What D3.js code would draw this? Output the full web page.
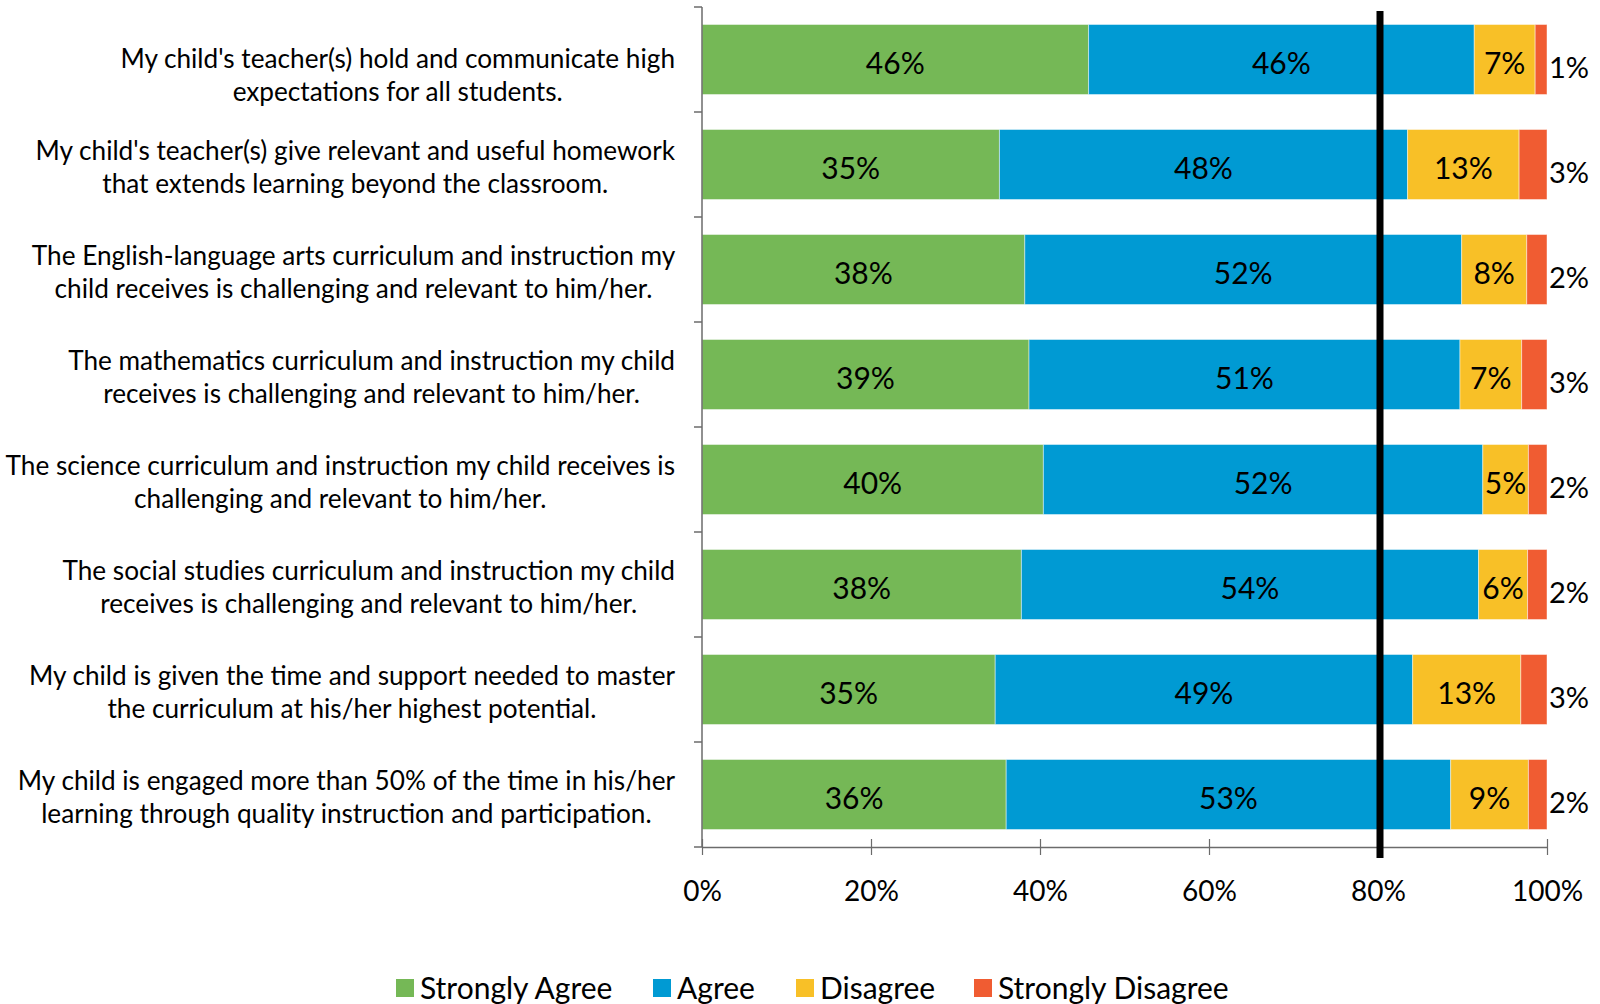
<!DOCTYPE html>
<html>
<head>
<meta charset="utf-8">
<script src="https://cdn.jsdelivr.net/npm/d3@7/dist/d3.min.js"></script>
<style>
  html, body { margin: 0; padding: 0; background: #fff; }
  svg { display: block; }
  text { font-family: Lato, "Open Sans", sans-serif; fill: #000; }
</style>
</head>
<body>
<svg id="chart" width="1600" height="1004"></svg>
<script>
const categories = [
  ["My child's teacher(s) hold and communicate high", "expectations for all students."],
  ["My child's teacher(s) give relevant and useful homework", "that extends learning beyond the classroom."],
  ["The English-language arts curriculum and instruction my", "child receives is challenging and relevant to him/her."],
  ["The mathematics curriculum and instruction my child", "receives is challenging and relevant to him/her."],
  ["The science curriculum and instruction my child receives is", "challenging and relevant to him/her."],
  ["The social studies curriculum and instruction my child", "receives is challenging and relevant to him/her."],
  ["My child is given the time and support needed to master", "the curriculum at his/her highest potential."],
  ["My child is engaged more than 50% of the time in his/her", "learning through quality instruction and participation."]
];
const seriesNames = ["Strongly Agree", "Agree", "Disagree", "Strongly Disagree"];
const stronglyAgree    = [45.7, 35.2, 38.2, 38.7, 40.4, 37.8, 34.7, 36.0];
const agree            = [45.6, 48.3, 51.7, 51.0, 52.0, 54.1, 49.4, 52.6];
const disagree         = [7.2, 13.2, 7.7, 7.3, 5.4, 5.8, 12.8, 9.2];
const stronglyDisagree = [1.4, 3.3, 2.4, 3.0, 2.2, 2.3, 3.1, 2.2];
const tickValues = [0, 0.2, 0.4, 0.6, 0.8, 1.0];
const targetLine = 0.80;

const colors = ["#75B856", "#009AD3", "#F8C027", "#F05C32"];

const rows = categories.map((c, i) => ({
  key: i,
  label: c,
  "Strongly Agree": stronglyAgree[i],
  "Agree": agree[i],
  "Disagree": disagree[i],
  "Strongly Disagree": stronglyDisagree[i]
}));

const stack = d3.stack().keys(seriesNames).offset(d3.stackOffsetExpand);
const stacked = stack(rows);

const svg = d3.select("#chart");
const x = d3.scaleLinear().domain([0, 1]).range([702, 1547]);
const y = d3.scaleBand().domain(rows.map(r => r.key)).range([7, 847]).paddingInner(1/3).paddingOuter(1/6);
const color = d3.scaleOrdinal().domain(seriesNames).range(colors);

// bars
const layers = svg.append("g").selectAll("g").data(stacked).join("g")
  .attr("fill", d => color(d.key));
layers.selectAll("rect").data(d => d).join("rect")
  .attr("x", d => x(d[0]))
  .attr("y", d => y(d.data.key))
  .attr("width", d => x(d[1]) - x(d[0]))
  .attr("height", y.bandwidth())
  .attr("stroke", "rgba(255,255,255,0.45)")
  .attr("stroke-width", 1);

// value labels
const fmt = v => Math.round(v) + "%";
stacked.forEach((layer, li) => {
  const g = svg.append("g");
  layer.forEach(d => {
    const raw = d.data[layer.key];
    const cy = y(d.data.key) + y.bandwidth() / 2;
    if (li < 3) {
      g.append("text")
        .attr("x", (x(d[0]) + x(d[1])) / 2)
        .attr("y", cy + 4)
        .attr("dy", "0.36em")
        .attr("text-anchor", "middle")
        .style("font-size", "30px")
        .text(fmt(raw));
    } else {
      g.append("text")
        .attr("x", x(d[1]) + 2)
        .attr("y", cy + 8)
        .attr("dy", "0.36em")
        .attr("text-anchor", "start")
        .style("font-size", "29px")
        .text(fmt(raw));
    }
  });
});

// y axis
const axisColor = "#6b6b6b";
const yAxisG = svg.append("g");
yAxisG.append("line").attr("x1", x(0)).attr("x2", x(0)).attr("y1", 7).attr("y2", 847)
  .attr("stroke", axisColor).attr("stroke-width", 1.5);
const boundaries = d3.range(rows.length + 1).map(i => 7 + y.step() * i);
yAxisG.selectAll("line.tk").data(boundaries).join("line").attr("class", "tk")
  .attr("x1", x(0) - 8).attr("x2", x(0)).attr("y1", d => d).attr("y2", d => d)
  .attr("stroke", axisColor).attr("stroke-width", 1.5);

// x axis
const xAxis = d3.axisBottom(x).tickValues(tickValues).tickFormat(d3.format(".0%")).tickSizeInner(0).tickSizeOuter(0).tickPadding(34);
const xg = svg.append("g").attr("transform", "translate(0,847)").call(xAxis);
xg.select(".domain").attr("stroke", axisColor).attr("stroke-width", 1.5);
xg.selectAll(".tick text").style("font-size", "28px").style("font-family", "Lato, sans-serif").attr("fill", "#000");
xg.selectAll(".tick").append("line").attr("y1", -8).attr("y2", 8).attr("stroke", axisColor).attr("stroke-width", 1.2);

// category labels
const labelRight = 675;
const lineH = 33;
const labG = svg.append("g");
rows.forEach((r, i) => {
  const cy = y(r.key) + y.bandwidth() / 2 + (i === 0 ? 16 : 3);
  const t = labG.append("text").attr("text-anchor", "middle").style("font-size", "26.2px");
  const spans = r.label.map((ln, j) => t.append("tspan").text(ln));
  const maxW = d3.max(spans.map(s => s.node().getComputedTextLength()));
  const cx = labelRight - maxW / 2;
  spans.forEach((s, j) => s.attr("x", cx).attr("y", cy + (j - (r.label.length - 1) / 2) * lineH).attr("dy", "0.36em"));
});

// target line at 80%
svg.append("line").attr("x1", x(targetLine) + 2).attr("x2", x(targetLine) + 2).attr("y1", 11).attr("y2", 858)
  .attr("stroke", "#000").attr("stroke-width", 7);

// legend
const legendX = [396, 653, 796, 974];
const lg = svg.append("g");
seriesNames.forEach((n, i) => {
  lg.append("rect").attr("x", legendX[i]).attr("y", 979).attr("width", 18).attr("height", 18).attr("fill", color(n));
  lg.append("text").attr("x", legendX[i] + 24).attr("y", 988).attr("dy", "0.36em").style("font-size", "30px").text(n);
});
</script>
</body>
</html>
